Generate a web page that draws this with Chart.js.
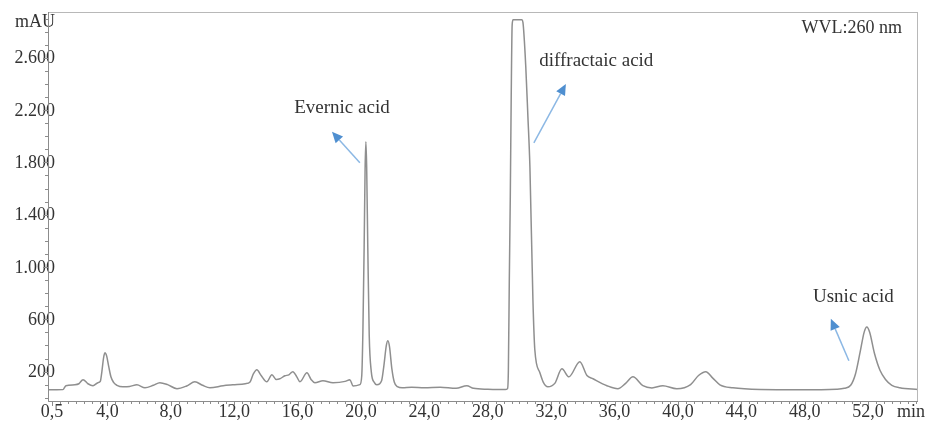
<!DOCTYPE html>
<html>
<head>
<meta charset="utf-8">
<script src="https://cdn.jsdelivr.net/npm/chart.js@4.4.1/dist/chart.umd.min.js"></script>
<style>
    html, body { margin: 0; padding: 0; background: #ffffff; }
    #chart { display: block; }
</style>
</head>
<body>
<canvas id="chart" width="926" height="422"></canvas>
<script>
// chromatogram (min / mAU)
const retentionTimes = [
    0.25, 0.8, 1.19, 1.38, 1.95, 2.2, 2.46, 2.77, 3.09, 3.4, 3.55, 3.65, 3.75, 3.84, 3.95, 4.08, 4.22, 4.4, 4.6, 4.98,
    5.4, 5.86, 6.37, 6.9, 7.31, 7.8, 8.39, 9.0, 9.52, 10.0, 10.47, 11.3, 11.92, 12.7, 13.0, 13.2, 13.43, 13.7,
    14.06, 14.38, 14.65, 14.88, 15.2, 15.45, 15.7, 15.95, 16.15, 16.59, 16.85, 17.09, 17.6, 18.23, 19.0, 19.3,
    19.5, 19.93, 20.05, 20.12, 20.2, 20.26, 20.31, 20.36, 20.43, 20.52, 20.65, 20.85, 21.0, 21.3, 21.45, 21.6,
    21.7, 21.8, 21.95, 22.1, 22.3, 22.6, 23.2, 24.0, 25.0, 26.0, 26.68, 27.1, 28.0, 29.1, 29.25, 29.3, 29.36,
    29.42, 29.48, 29.54, 29.6, 30.15, 30.22, 30.4, 30.53, 30.66, 30.85, 30.97, 31.29, 31.5, 31.79, 32.23, 32.68,
    33.12, 33.81, 34.26, 34.64, 35.52, 36.21, 36.7, 37.16, 37.79, 38.36, 39.05, 39.93, 40.8, 41.3, 41.76, 42.2,
    42.65, 43.47, 45.2, 47.7, 50.0, 50.5, 50.9, 51.2, 51.5, 51.75, 51.92, 52.1, 52.4, 52.75, 53.1, 53.5, 54.0, 55.15
];
const absorbance = [
    61, 61, 62, 92, 99, 107, 138, 107, 92, 115, 125, 200, 300, 344, 320, 240, 160, 115, 95, 84,
    86, 99, 76, 95, 115, 100, 69, 90, 122, 95, 76, 92, 99, 107, 120, 180, 214, 170,
    122, 176, 140, 145, 168, 175, 199, 160, 122, 191, 140, 115, 130, 115, 125, 138,
    90, 100, 170, 500, 1150, 1750, 1957, 1760, 1150, 480, 200, 115, 99, 130, 250, 400,
    436, 390, 220, 120, 85, 76, 80, 76, 80, 72, 92, 72, 65, 62, 70, 200, 900,
    1514, 2300, 2850, 2890, 2890, 2870, 2530, 2160, 1766, 749, 367, 191, 120, 84, 110, 222,
    160, 275, 170, 145, 92, 69, 110, 160, 92, 75, 92, 69, 100, 170, 199, 150,
    99, 76, 63, 61, 65, 72, 95, 180, 350, 500, 540, 500, 340, 210, 140, 95, 76, 63
];

const xTickValues = [0.5, 4, 8, 12, 16, 20, 24, 28, 32, 36, 40, 44, 48, 52];
const yTickValues = [200, 600, 1000, 1400, 1800, 2200, 2600];

// peak labels and their arrows (data units)
const peakNames = ['Evernic acid', 'diffractaic acid', 'Usnic acid'];
const labelTimes = [18.8, 34.85, 51.07];
const labelLevels = [2217, 2576, 772];
const arrowFromTimes = [19.93, 30.91, 50.79];
const arrowFromLevels = [1797, 1949, 283];
const arrowToTimes = [18.17, 32.93, 49.65];
const arrowToLevels = [2034, 2400, 604];

const serif = '"Liberation Serif", "Times New Roman", serif';
const textColor = '#333333';

function formatMau(value) {
    return value >= 1000
        ? Math.floor(value / 1000) + '.' + String(value % 1000).padStart(3, '0')
        : String(value);
}

function drawArrow(ctx, x1, y1, x2, y2) {
    const ang = Math.atan2(y2 - y1, x2 - x1);
    const len = 11, half = 5;
    const bx = x2 - len * Math.cos(ang), by = y2 - len * Math.sin(ang);
    ctx.beginPath();
    ctx.moveTo(x1, y1);
    ctx.lineTo(bx, by);
    ctx.stroke();
    ctx.beginPath();
    ctx.moveTo(x2, y2);
    ctx.lineTo(bx + half * Math.sin(ang), by - half * Math.cos(ang));
    ctx.lineTo(bx - half * Math.sin(ang), by + half * Math.cos(ang));
    ctx.closePath();
    ctx.fill();
}

const chromPlugin = {
    id: 'chromExtras',
    afterDraw(chart) {
        const { ctx, chartArea: area, scales: { x, y } } = chart;
        ctx.save();

        // frame
        ctx.strokeStyle = '#b8b8b8';
        ctx.lineWidth = 1;
        ctx.strokeRect(area.left + 0.5, area.top + 0.5, area.right - area.left - 1, area.bottom - area.top);

        // y labels sit across the axis line, like the original
        ctx.fillStyle = textColor;
        ctx.font = '18px ' + serif;
        ctx.textBaseline = 'middle';
        ctx.textAlign = 'right';
        yTickValues.forEach(v => {
            ctx.fillText(formatMau(v), area.left + 7, y.getPixelForValue(v) + 1);
        });
        ctx.fillText('mAU', area.left + 7, area.top + 10);

        // axis lines
        ctx.strokeStyle = '#8c8c8c';
        ctx.beginPath();
        ctx.moveTo(area.left + 0.5, area.top);
        ctx.lineTo(area.left + 0.5, area.bottom + 0.5);
        ctx.lineTo(area.right, area.bottom + 0.5);
        ctx.stroke();

        // x ticks
        ctx.beginPath();
        for (let t = 0.5; t <= 55; t += 0.5) {
            const px = Math.round(x.getPixelForValue(t)) + 0.5;
            const major = xTickValues.includes(t);
            ctx.moveTo(px, area.bottom);
            ctx.lineTo(px, area.bottom + (major ? 5 : 3));
        }
        // y ticks
        for (let v = 0; v <= 2900; v += 100) {
            const py = Math.round(y.getPixelForValue(v)) + 0.5;
            const major = yTickValues.includes(v);
            ctx.moveTo(area.left, py);
            ctx.lineTo(area.left - (major ? 5 : 3), py);
        }
        ctx.stroke();

        // wavelength and time unit
        ctx.fillText('WVL:260 nm', area.right - 16, area.top + 16);
        ctx.textAlign = 'left';
        ctx.fillText('min', area.right - 21, area.bottom + 11);

        // peak labels
        ctx.font = '19px ' + serif;
        ctx.textAlign = 'center';
        peakNames.forEach((name, i) => {
            ctx.fillText(name, x.getPixelForValue(labelTimes[i]), y.getPixelForValue(labelLevels[i]));
        });

        // arrows
        ctx.strokeStyle = '#8cb8e4';
        ctx.fillStyle = '#4f8fd0';
        ctx.lineWidth = 1.5;
        peakNames.forEach((name, i) => {
            drawArrow(ctx,
                x.getPixelForValue(arrowFromTimes[i]), y.getPixelForValue(arrowFromLevels[i]),
                x.getPixelForValue(arrowToTimes[i]), y.getPixelForValue(arrowToLevels[i]));
        });

        ctx.restore();
    }
};

const points = retentionTimes.map((t, i) => ({ x: t, y: absorbance[i] }));

const ctx = document.getElementById('chart').getContext('2d');
const chart = new Chart(ctx, {
    type: 'line',
    data: {
        datasets: [
            {
                label: 'WVL:260 nm',
                data: points,
                borderColor: '#8f8f8f',
                borderWidth: 1.5,
                pointRadius: 0,
                fill: false,
                cubicInterpolationMode: 'monotone',
            },
        ],
    },
    options: {
        responsive: false,
        animation: false,
        devicePixelRatio: 1,
        layout: { padding: { left: 0, right: 8, top: 12, bottom: 0 } },
        plugins: {
            legend: { display: false },
            tooltip: { enabled: false },
        },
        scales: {
            x: {
                type: 'linear',
                min: 0.25,
                max: 55.15,
                grid: { display: false, drawTicks: false },
                border: { display: false },
                afterBuildTicks: scale => { scale.ticks = xTickValues.map(v => ({ value: v })); },
                afterFit: scale => { scale.height = 21; },
                ticks: {
                    padding: 0,
                    maxRotation: 0,
                    autoSkip: false,
                    color: textColor,
                    font: { family: serif, size: 18 },
                    callback: value => value.toFixed(1).replace('.', ','),
                },
            },
            y: {
                min: -25,
                max: 2950,
                grid: { display: false, drawTicks: false },
                border: { display: false },
                afterBuildTicks: scale => { scale.ticks = yTickValues.map(v => ({ value: v })); },
                afterFit: scale => { scale.width = 48; },
                ticks: { display: false },
            },
        },
    },
    plugins: [chromPlugin],
});
</script>
</body>
</html>
